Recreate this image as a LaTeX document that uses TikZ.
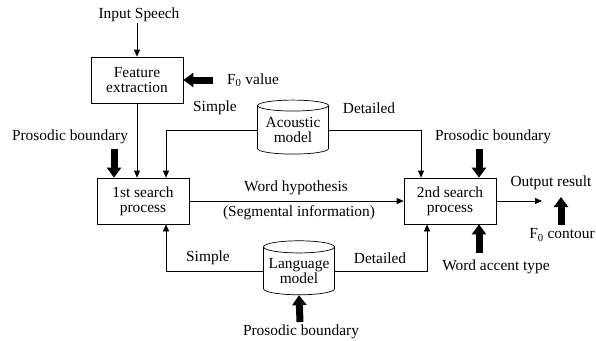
\documentclass[tikz,border=0pt]{standalone}
\usepackage{fontspec}
\setmainfont{Liberation Serif}
\usetikzlibrary{arrows.meta,shapes.geometric}

\tikzstyle{block}=[draw, line width=0.7pt, align=center, minimum width=92pt, minimum height=46pt, inner sep=0pt]
\tikzstyle{store}=[draw, line width=0.7pt, cylinder, shape border rotate=90, aspect=0.2, align=center, minimum width=71pt, minimum height=54pt, inner sep=0pt]
\tikzstyle{arrow}=[line width=0.7pt, -{Triangle[length=7pt, width=6pt]}]
\tikzstyle{fat}=[line width=7pt, -{Triangle[length=10pt, width=14pt]}]
\tikzstyle{lbl}=[inner sep=1pt]

\begin{document}
\begin{tikzpicture}[x=1pt, y=-1pt, font=\fontsize{15.4}{15}\selectfont]
      \useasboundingbox (0, 0) rectangle (596, 340);

      \node[block] (fe) at (137, 80) {Feature\\extraction};
      \node[block] (s1) at (143, 201) {1st search\\process};
      \node[block] (s2) at (450, 201) {2nd search\\process};
      \node[store] (am) at (293, 130) {Acoustic\\model};
      \node[store] (lm) at (299, 271) {Language\\model};

      \node[lbl] (in) at (139, 15) {Input Speech};
      \node[lbl] (f0) at (253, 80) {F\textsubscript{0} value};
      \node[lbl] (as) at (215, 108) {Simple};
      \node[lbl] (ad) at (369, 108) {Detailed};
      \node[lbl] (pb1) at (70, 137) {Prosodic boundary};
      \node[lbl] (pb2) at (493, 137) {Prosodic boundary};
      \node[lbl] (wh) at (296, 188) {Word hypothesis};
      \node[lbl] (si) at (299, 213) {(Segmental information)};
      \node[lbl] (out) at (551, 183) {Output result};
      \node[lbl] (f0c) at (562, 235) {F\textsubscript{0} contour};
      \node[lbl] (ls) at (208, 258) {Simple};
      \node[lbl] (ld) at (380, 258) {Detailed};
      \node[lbl] (wa) at (496, 267) {Word accent type};
      \node[lbl] (pb3) at (301, 332) {Prosodic boundary};

      \coordinate (f0t) at (213, 80);
      \coordinate (pb1t) at (114, 149);
      \coordinate (pb2t) at (479, 149);
      \coordinate (wat) at (479, 253);
      \coordinate (pb3t) at (300, 322);
      \coordinate (f0ct) at (561, 225);
      \coordinate (f0ch) at (561, 197);
      \coordinate (res) at (542, 201);

      \draw[arrow] (in.south -| fe.north) to (fe.north);
      \draw[arrow] (fe) to (fe |- s1.north);
      \draw[arrow] (am.west) -| ([xshift=23pt]s1.north);
      \draw[arrow] (am.east) -| ([xshift=-29pt]s2.north);
      \draw[arrow] (lm.west) -| ([xshift=23pt]s1.south);
      \draw[arrow] (lm.east) -| ([xshift=-23pt]s2.south);
      \draw[arrow] (s1) to (s2);
      \draw[arrow] (s2) to (res);

      \draw[fat] (f0t) to (fe.east);
      \draw[fat] (pb1t) to ([xshift=-29pt]s1.north);
      \draw[fat] (pb2t) to ([xshift=29pt]s2.north);
      \draw[fat] (wat) to ([xshift=29pt]s2.south);
      \draw[fat] (pb3t) to (lm.south);
      \draw[fat] (f0ct) to (f0ch);
    \end{tikzpicture}
\end{document}
